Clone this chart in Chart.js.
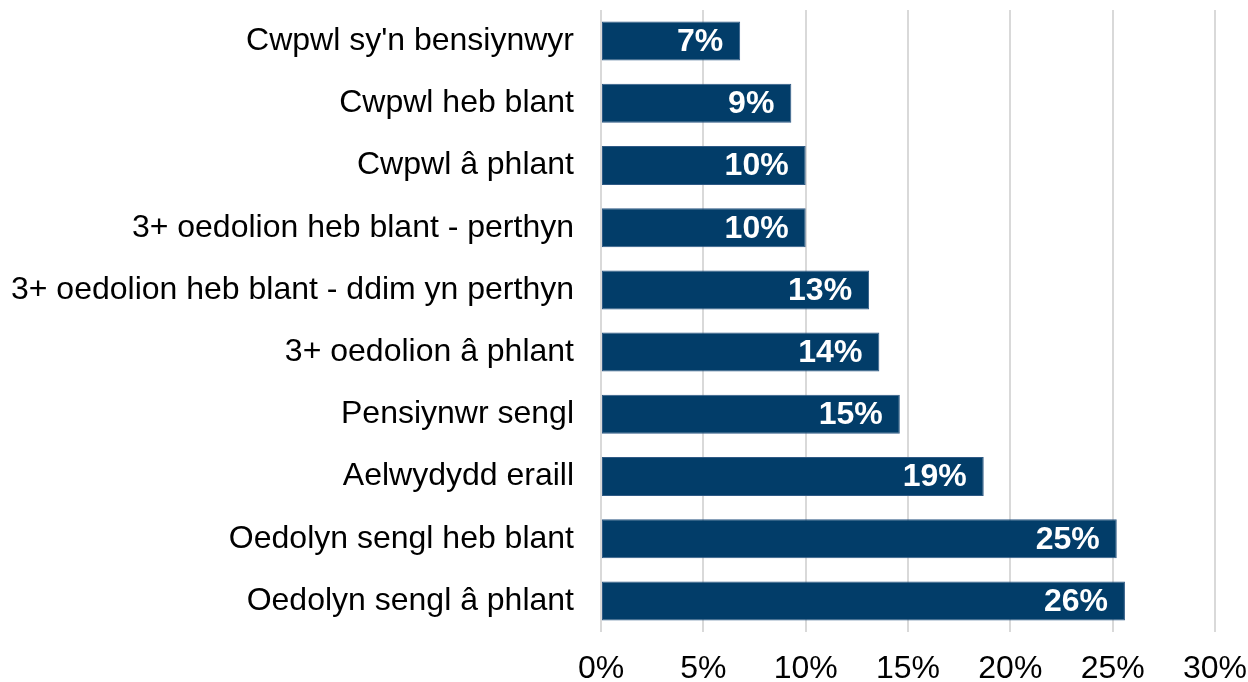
<!DOCTYPE html>
<html>
<head>
<meta charset="utf-8">
<script src="https://cdn.jsdelivr.net/npm/chart.js@4/dist/chart.umd.min.js"></script>
<style>
  html, body { margin: 0; padding: 0; background: #ffffff; }
  #wrap { width: 1248px; height: 682px; }
</style>
</head>
<body>
<div id="wrap"><canvas id="c" width="1248" height="682"></canvas></div>
<script>
const categories = [
  "Cwpwl sy'n bensiynwyr",
  "Cwpwl heb blant",
  "Cwpwl â phlant",
  "3+ oedolion heb blant - perthyn",
  "3+ oedolion heb blant - ddim yn perthyn",
  "3+ oedolion â phlant",
  "Pensiynwr sengl",
  "Aelwydydd eraill",
  "Oedolyn sengl heb blant",
  "Oedolyn sengl â phlant"
];
const values = [6.8, 9.3, 10.0, 10.0, 13.1, 13.6, 14.6, 18.7, 25.2, 25.6];
const valueLabels = ["7%", "9%", "10%", "10%", "13%", "14%", "15%", "19%", "25%", "26%"];
const xTicks = [0, 5, 10, 15, 20, 25, 30];

const FONT = "'Liberation Sans', Arial, sans-serif";
const BAR = '#023d69';

const barLabels = {
  id: 'barLabels',
  afterDatasetsDraw(chart) {
    const ctx = chart.ctx;
    const meta = chart.getDatasetMeta(0);
    ctx.save();
    ctx.font = 'bold 32px ' + FONT;
    ctx.fillStyle = '#ffffff';
    ctx.textAlign = 'right';
    ctx.textBaseline = 'middle';
    meta.data.forEach((el, i) => {
      ctx.fillText(valueLabels[i], el.x - 17, el.y + 1);
    });
    ctx.restore();
  }
};

new Chart(document.getElementById('c'), {
  type: 'bar',
  data: {
    labels: categories,
    datasets: [{
      data: values,
      backgroundColor: BAR,
      borderColor: '#2f5a85',
      borderWidth: 1,
      borderSkipped: false,
      categoryPercentage: 1,
      barPercentage: 0.627
    }]
  },
  options: {
    indexAxis: 'y',
    responsive: false,
    animation: false,
    devicePixelRatio: 1,
    layout: { padding: { top: 10, right: 33, bottom: 0, left: 0 } },
    plugins: { legend: { display: false }, tooltip: { enabled: false } },
    scales: {
      x: {
        min: 0, max: 30,
        afterBuildTicks: (scale) => { scale.ticks = xTicks.map(v => ({ value: v })); },
        afterFit: (scale) => { scale.height = 50; scale.paddingLeft = 0; scale.paddingRight = 0; },
        ticks: {
          callback: (v) => v + '%',
          color: '#000000',
          font: { family: FONT, size: 32 },
          padding: 18,
          maxRotation: 0
        },
        grid: { color: '#d9d9d9', lineWidth: 2, drawTicks: false },
        border: { display: false }
      },
      y: {
        afterFit: (scale) => { scale.width = 601; scale.paddingTop = 0; scale.paddingBottom = 0; },
        ticks: {
          color: '#000000',
          font: { family: FONT, size: 32 },
          padding: 27
        },
        grid: { display: false, drawTicks: false },
        border: { display: false }
      }
    }
  },
  plugins: [barLabels]
});
</script>
</body>
</html>
